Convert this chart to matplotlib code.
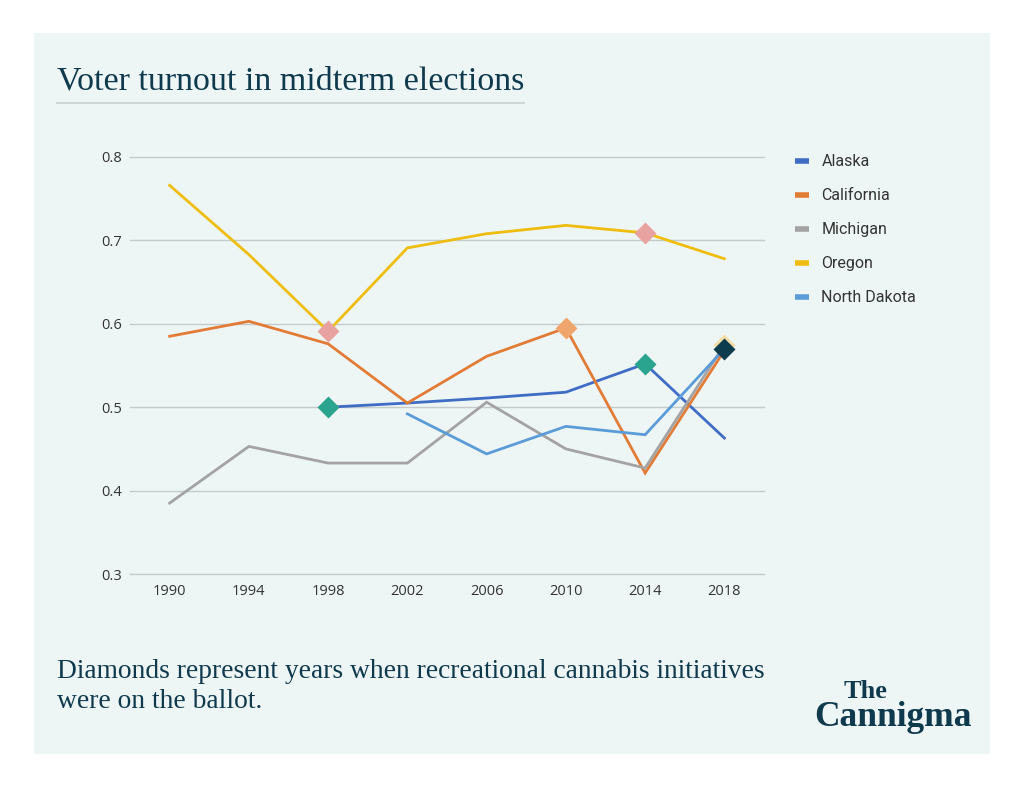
import matplotlib.pyplot as plt
import numpy as np
from matplotlib.lines import Line2D
from matplotlib.patches import Rectangle

years = ['1990', '1994', '1998', '2002', '2006', '2010', '2014', '2018']

alaska = [None, None, 0.500, 0.505, 0.511, 0.518, 0.552, 0.463]
california = [0.585, 0.603, 0.576, 0.505, 0.561, 0.595, 0.421, 0.568]
michigan = [0.385, 0.453, 0.433, 0.433, 0.506, 0.450, 0.427, 0.575]
oregon = [0.766, 0.683, 0.591, 0.691, 0.708, 0.718, 0.709, 0.678]
north_dakota = [None, None, None, 0.492, 0.444, 0.477, 0.467, 0.570]

# years with a recreational cannabis initiative on the ballot (diamonds)
ballot_years = {
    'Alaska': ['1998', '2014'],
    'California': ['2010'],
    'Michigan': ['2018'],
    'Oregon': ['1998', '2014'],
    'North Dakota': ['2018'],
}

series = [('Alaska', alaska, '#3f6cc4'),
          ('California', california, '#e27b36'),
          ('Michigan', michigan, '#a3a3a3'),
          ('Oregon', oregon, '#efbd0f'),
          ('North Dakota', north_dakota, '#5b9cd8')]
diamond_colors = {'Alaska': '#2aa48e', 'California': '#f0a56d', 'Michigan': '#f3dca5',
                  'Oregon': '#e8a3a0', 'North Dakota': '#0e3c4f'}

navy = '#0f3a4e'
W, H = 1024, 788
fig = plt.figure(figsize=(W / 100, H / 100), dpi=100)
fig.patch.set_facecolor('white')
panel = Rectangle((34 / W, 1 - 754 / H), (990 - 34) / W, (754 - 33) / H,
                  transform=fig.transFigure, facecolor='#eef6f5', edgecolor='none', zorder=-5)
fig.add_artist(panel)

ax = fig.add_axes([130 / W, 1 - 574 / H, (764 - 130) / W, (574 - 157) / H])
ax.set_facecolor('none')
ax.set_zorder(2)
x = np.arange(len(years))

handles = []
for name, vals, col in series:
    v = np.array([np.nan if a is None else a for a in vals])
    ax.plot(x, v, color=col, lw=2, zorder=3, solid_joinstyle='miter')
    handles.append(Line2D([], [], color=col, lw=4, solid_capstyle='butt'))

for name, vals, col in series:
    for yr in ballot_years[name]:
        i = years.index(yr)
        ax.plot(x[i], vals[i], marker='D', ms=11, color=diamond_colors[name],
                mec='none', zorder=5 if name != 'Michigan' else 4)

ax.set_xlim(-0.5, 7.5)
ax.set_ylim(0.3, 0.8)
ax.set_yticks([0.3, 0.4, 0.5, 0.6, 0.7, 0.8])
ax.set_yticklabels(['0.3', '0.4', '0.5', '0.6', '0.7', '0.8'])
ax.set_xticks(x)
ax.set_xticklabels(years)
ax.grid(axis='y', color='#c5cbcb', lw=1, zorder=1)
for gl in ax.get_ygridlines():
    gl.set_clip_on(False)
for s in ax.spines.values():
    s.set_visible(False)
ax.tick_params(length=0, labelsize=10.5, labelcolor='#333333', pad=7)
ax.tick_params(axis='y', pad=6)
for t in ax.get_xticklabels() + ax.get_yticklabels():
    t.set_fontfamily('Open Sans')

leg = ax.legend(handles, [s[0] for s in series], loc='upper left',
                bbox_to_anchor=(781 / W, 1 - 140 / H), bbox_transform=fig.transFigure,
                frameon=False, handlelength=0.875, handletextpad=0.75, labelspacing=1.19,
                prop={'family': 'Roboto', 'size': 11.5})
for t in leg.get_texts():
    t.set_color('#333333')

# title and underline
fig.text(57 / W, 1 - 81 / H, 'Voter turnout in midterm elections', family='Liberation Serif',
         fontsize=24.5, color=navy, va='center', ha='left')
fig.add_artist(Line2D([57 / W, 524 / W], [1 - 103 / H, 1 - 103 / H], color='#c9d0d0', lw=1.2,
                      transform=fig.transFigure))

fig.text(57 / W, 1 - 671 / H, 'Diamonds represent years when recreational cannabis initiatives',
         family='Liberation Serif', fontsize=19.8, color=navy, va='center', ha='left')
fig.text(57 / W, 1 - 702 / H, 'were on the ballot.',
         family='Liberation Serif', fontsize=19.8, color=navy, va='center', ha='left')

# logo
fig.text(866 / W, 1 - 692 / H, 'The', family='Liberation Serif', fontweight='bold',
         fontsize=19, color=navy, va='center', ha='center')
fig.text(893 / W, 1 - 718 / H, 'Cannigma', family='Liberation Serif', fontweight='bold',
         fontsize=25.5, color=navy, va='center', ha='center')

fig.savefig('out.png', dpi=100, facecolor='white')
